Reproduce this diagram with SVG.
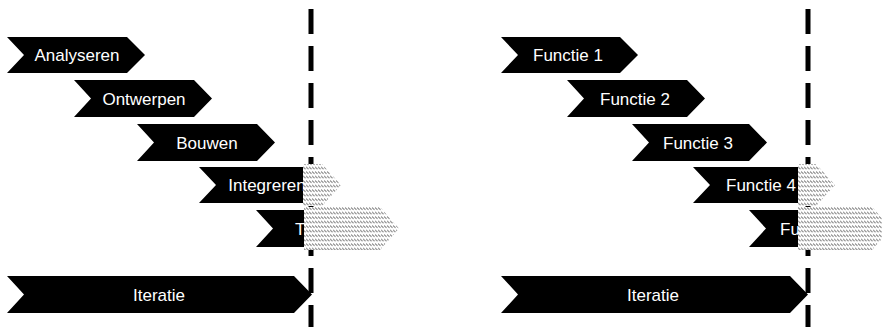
<svg xmlns="http://www.w3.org/2000/svg" width="882" height="327" viewBox="0 0 882 327">
<style>
.chev{fill:#000;}
.lbl{fill:#fff;font-family:"Liberation Sans",Arial,sans-serif;font-size:17px;text-anchor:middle;}
.lbls{fill:#fff;font-family:"Liberation Sans",Arial,sans-serif;font-size:17px;}
.dl{stroke:#000;stroke-width:5;stroke-dasharray:25 12;fill:none;}
.hbg{fill:#fff;}
.hat{fill:url(#hatch);}
</style>
<defs>
<pattern id="hatch" patternUnits="userSpaceOnUse" width="3" height="4.5">
<rect width="3" height="4.5" fill="#fff"/>
<path d="M-0.3,0.2 L2.7,2.9" stroke="#222" stroke-width="0.85"/>
</pattern>
</defs>
<rect width="882" height="327" fill="#fff"/>
<g id="deadlines">
<line class="dl" x1="311" y1="9" x2="311" y2="327"/>
<line class="dl" x1="808" y1="9" x2="808" y2="327"/>
</g>
<g id="connectors"></g>
<g id="analyseren">
<polygon class="chev" points="7,37 127,37 145,55 127,73 7,73 24,55"/>
<text class="lbl" x="77" y="61">Analyseren</text>
</g>
<g id="ontwerpen">
<polygon class="chev" points="74,80 194,80 212,98.5 194,117 74,117 91,98.5"/>
<text class="lbl" x="144" y="104.5">Ontwerpen</text>
</g>
<g id="bouwen">
<polygon class="chev" points="137,124 257,124 275,142.5 257,161 137,161 154,142.5"/>
<text class="lbl" x="207" y="148.5">Bouwen</text>
</g>
<g id="integreren">
<polygon class="chev" points="199,167 320,167 338,185 320,203 199,203 216,185"/>
<text class="lbl" x="267" y="191">Integreren</text>
<polygon class="hbg" points="303,164 322,164 341,185 322,206 303,206"/>
<polygon class="hat" points="303,164 322,164 341,185 322,206 303,206"/>
</g>
<g id="testen">
<polygon class="chev" points="256,210 378,210 396,228.5 378,247 256,247 273,228.5"/>
<text class="lbls" x="295" y="234.5">T</text>
<polygon class="hbg" points="304,207 380,207 399,228.5 380,250 304,250"/>
<polygon class="hat" points="304,207 380,207 399,228.5 380,250 304,250"/>
</g>
<g id="iteratie-left">
<polygon class="chev" points="7,276 294,276 312,294.5 294,313 7,313 24,294.5"/>
<text class="lbl" x="159" y="300.5">Iteratie</text>
</g>
<g id="functie1">
<polygon class="chev" points="501,37 620,37 638,55 620,73 501,73 518,55"/>
<text class="lbl" x="568" y="61">Functie 1</text>
</g>
<g id="functie2">
<polygon class="chev" points="567,80 687,80 705,98.5 687,117 567,117 584,98.5"/>
<text class="lbl" x="635" y="104.5">Functie 2</text>
</g>
<g id="functie3">
<polygon class="chev" points="632,124 749,124 767,142.5 749,161 632,161 649,142.5"/>
<text class="lbl" x="698" y="148.5">Functie 3</text>
</g>
<g id="functie4">
<polygon class="chev" points="693,167 815,167 833,185 815,203 693,203 710,185"/>
<text class="lbl" x="761" y="191">Functie 4</text>
<polygon class="hbg" points="798,164 816,164 835,185 816,206 798,206"/>
<polygon class="hat" points="798,164 816,164 835,185 816,206 798,206"/>
</g>
<g id="functie5">
<polygon class="chev" points="749,210 872,210 890,228.5 872,247 749,247 766,228.5"/>
<text class="lbls" x="780" y="234.5">Fu</text>
<polygon class="hbg" points="798,207 872,207 891,228.5 872,250 798,250"/>
<polygon class="hat" points="798,207 872,207 891,228.5 872,250 798,250"/>
</g>
<g id="iteratie-right">
<polygon class="chev" points="501,276 790,276 808,294.5 790,313 501,313 518,294.5"/>
<text class="lbl" x="653" y="300.5">Iteratie</text>
</g>
</svg>
